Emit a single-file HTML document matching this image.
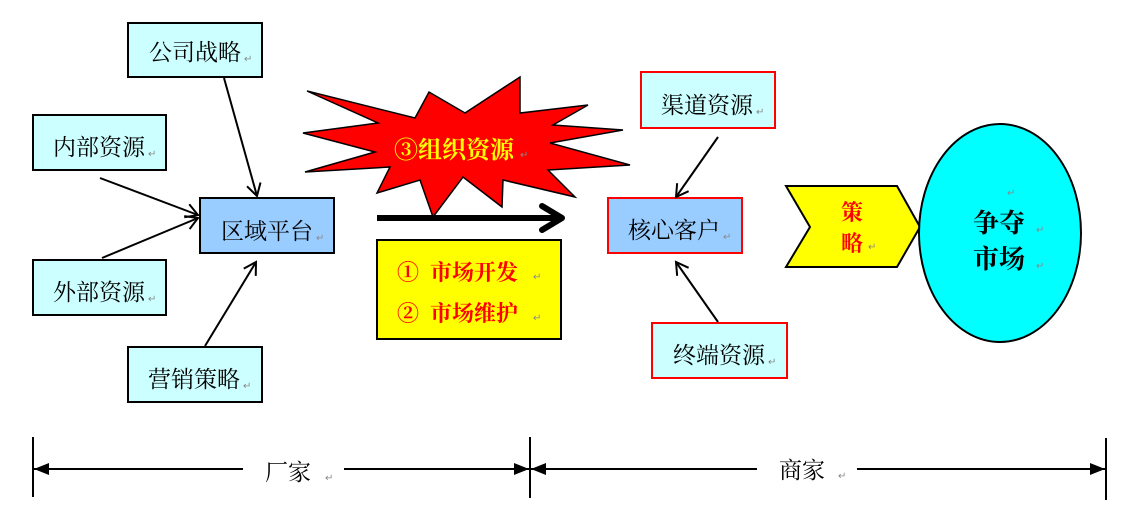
<!DOCTYPE html>
<html><head><meta charset="utf-8"><style>
html,body{margin:0;padding:0;background:#fff;}
svg{display:block;}
text{font-family:"Liberation Serif","Noto Serif CJK SC",serif;}
.t{font-size:23px;fill:#000;}
.m{font-size:10px;fill:#888;}
</style></head><body>
<svg width="1125" height="520" viewBox="0 0 1125 520" xmlns="http://www.w3.org/2000/svg">
<defs>
<marker id="op" markerWidth="16" markerHeight="16" refX="14" refY="8" orient="auto" markerUnits="userSpaceOnUse">
<path d="M2,1 L14,8 L2,15" fill="none" stroke="#000" stroke-width="2"/></marker>
<marker id="fa" markerWidth="16" markerHeight="14" refX="15" refY="7" orient="auto-start-reverse" markerUnits="userSpaceOnUse">
<path d="M0,1 L15,7 L0,13 Z" fill="#000"/></marker>
</defs>
<rect x="128" y="23" width="134" height="54" fill="#ccffff" stroke="#000" stroke-width="2"/>
<text x="149" y="60" class="t">公司战略</text><text x="244" y="62" class="m">↵</text>
<rect x="33" y="115" width="133" height="55" fill="#ccffff" stroke="#000" stroke-width="2"/>
<text x="53" y="155" class="t">内部资源</text><text x="148" y="157" class="m">↵</text>
<rect x="33" y="260" width="133" height="55" fill="#ccffff" stroke="#000" stroke-width="2"/>
<text x="53" y="300" class="t">外部资源</text><text x="148" y="302" class="m">↵</text>
<rect x="128" y="347" width="134" height="55" fill="#ccffff" stroke="#000" stroke-width="2"/>
<text x="148" y="387" class="t">营销策略</text><text x="243" y="389" class="m">↵</text>
<rect x="200" y="198" width="134" height="55" fill="#99ccff" stroke="#000" stroke-width="2"/>
<text x="221" y="239" class="t">区域平台</text><text x="316" y="241" class="m">↵</text>
<line x1="224" y1="78" x2="257" y2="196" stroke="#000" stroke-width="2" marker-end="url(#op)"/>
<line x1="100" y1="178" x2="198" y2="215" stroke="#000" stroke-width="2" marker-end="url(#op)"/>
<line x1="102" y1="258" x2="198" y2="218" stroke="#000" stroke-width="2" marker-end="url(#op)"/>
<line x1="205" y1="346" x2="256" y2="262" stroke="#000" stroke-width="2" marker-end="url(#op)"/>
<polygon points="307,91 415,118 429,92 465,113 520,77 520,113 588,105 553,125 623,130 550,143 630,165 548,170 575,197 503,180 502,207 463,177 433,217 420,180 377,193 390,167 305,172 375,152 303,133 378,123" fill="#ff0000" stroke="#000" stroke-width="1.5"/>
<text x="394" y="158" font-size="24" font-weight="bold" fill="#ffff00">③组织资源</text><text x="520" y="158" class="m">↵</text>
<line x1="377" y1="218" x2="558" y2="218" stroke="#000" stroke-width="6"/>
<path d="M542,206 L562,218 L542,230" fill="none" stroke="#000" stroke-width="6" stroke-linecap="round" stroke-linejoin="round"/>
<rect x="377" y="240" width="184" height="99" fill="#ffff00" stroke="#000" stroke-width="2"/>
<text x="397" y="280" font-size="22" font-weight="bold" fill="#ff0000">①&#160;&#160;市场开发</text><text x="533" y="280" class="m">↵</text>
<text x="397" y="321" font-size="22" font-weight="bold" fill="#ff0000">②&#160;&#160;市场维护</text><text x="533" y="321" class="m">↵</text>
<rect x="641" y="72" width="134" height="56" fill="#ccffff" stroke="#ff0000" stroke-width="2"/>
<text x="661" y="113" class="t">渠道资源</text><text x="756" y="115" class="m">↵</text>
<rect x="608" y="198" width="134" height="55" fill="#99ccff" stroke="#ff0000" stroke-width="2"/>
<text x="628" y="238" class="t">核心客户</text><text x="723" y="240" class="m">↵</text>
<rect x="652" y="323" width="135" height="55" fill="#ccffff" stroke="#ff0000" stroke-width="2"/>
<text x="673" y="363" class="t">终端资源</text><text x="768" y="365" class="m">↵</text>
<line x1="718" y1="137" x2="676" y2="197" stroke="#000" stroke-width="2" marker-end="url(#op)"/>
<line x1="718" y1="322" x2="676" y2="262" stroke="#000" stroke-width="2" marker-end="url(#op)"/>
<polygon points="786,186 897,186 920,227 897,267 786,267 810,227" fill="#ffff00" stroke="#000" stroke-width="2"/>
<text x="841" y="220" font-size="22" font-weight="bold" fill="#ff0000">策</text>
<text x="841" y="251" font-size="22" font-weight="bold" fill="#ff0000">略</text><text x="868" y="250" class="m">↵</text>
<ellipse cx="1000" cy="233" rx="81" ry="109" fill="#00ffff" stroke="#000" stroke-width="2"/>
<text x="1007" y="196" class="m">↵</text>
<text x="973" y="232" font-size="26" font-weight="bold" fill="#000">争夺</text><text x="1036" y="233" class="m">↵</text>
<text x="973" y="268" font-size="26" font-weight="bold" fill="#000">市场</text><text x="1036" y="269" class="m">↵</text>
<line x1="33" y1="437" x2="33" y2="497" stroke="#000" stroke-width="2"/>
<line x1="530" y1="437" x2="530" y2="498" stroke="#000" stroke-width="2"/>
<line x1="1106" y1="438" x2="1106" y2="500" stroke="#000" stroke-width="2"/>
<line x1="243" y1="469" x2="34" y2="469" stroke="#000" stroke-width="2" marker-end="url(#fa)"/>
<line x1="344" y1="469" x2="529" y2="469" stroke="#000" stroke-width="2" marker-end="url(#fa)"/>
<line x1="757" y1="469" x2="531" y2="469" stroke="#000" stroke-width="2" marker-end="url(#fa)"/>
<line x1="857" y1="469" x2="1105" y2="469" stroke="#000" stroke-width="2" marker-end="url(#fa)"/>
<text x="265" y="480" class="t">厂家</text><text x="325" y="481" class="m">↵</text>
<text x="779" y="478" class="t">商家</text><text x="838" y="479" class="m">↵</text>
</svg>
</body></html>
